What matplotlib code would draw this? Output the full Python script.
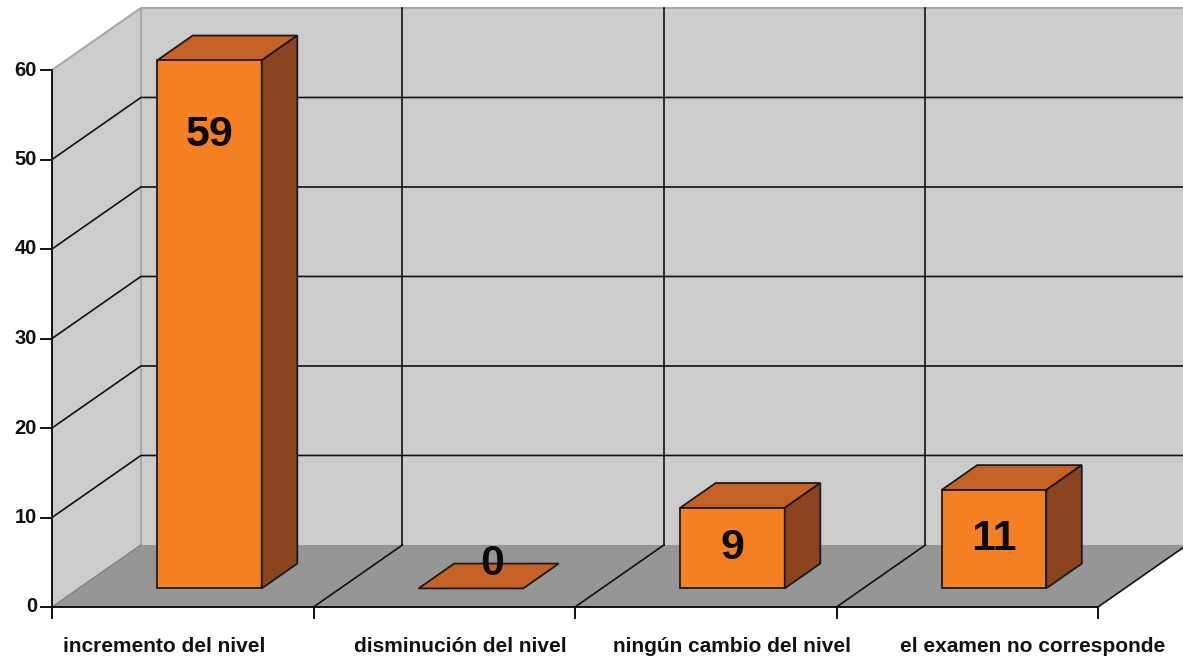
import matplotlib
matplotlib.use("Agg")
import matplotlib.pyplot as plt
from matplotlib.patches import Polygon

plt.rcParams['font.family'] = ['Liberation Sans', 'DejaVu Sans']

categories = ["incremento del nivel", "disminución del nivel",
              "ningún cambio del nivel", "el examen no corresponde"]
values = [59, 0, 9, 11]
yticks = [0, 10, 20, 30, 40, 50, 60]
label_shift = [-0.07, 0.06, 0.10, 0.25]   # category label nudges (category units)

# pseudo-3d geometry, in data units
DX, DY = 0.34, 6.93          # depth vector of the box
D0, D1 = 0.30, 0.70          # bar front/back as fraction of depth
BW = 0.40                    # bar width
YMAX = 60
n = len(categories)

FRONT, TOP, SIDE = "#F58021", "#C76226", "#8C4420"
WALL, FLOOR = "#CCCCCC", "#969696"

fig = plt.figure(figsize=(11.83, 6.56), dpi=100)
ax = fig.add_axes([0, 0, 1, 1])
ax.set_xlim(-52 / 261.5, (1183 - 52) / 261.5)
ax.set_ylim(-49 / 8.95, (656 - 49) / 8.95)
ax.axis("off")

def poly(pts, fc, ec="none", lw=0, z=1):
    ax.add_patch(Polygon(pts, closed=True, facecolor=fc, edgecolor=ec, lw=lw, zorder=z, joinstyle="miter"))

# walls and floor
poly([(DX, DY), (n + DX, DY), (n + DX, YMAX + DY), (DX, YMAX + DY)], WALL)
poly([(0, 0), (DX, DY), (DX, YMAX + DY), (0, YMAX)], WALL)
poly([(0, 0), (n, 0), (n + DX, DY), (DX, DY)], FLOOR)

# frame edges in gray
ax.plot([0, DX, n + DX], [YMAX, YMAX + DY, YMAX + DY], color="#A8A8A8", lw=1.5, zorder=2)
ax.plot([DX, DX], [DY, YMAX + DY], color="#A0A0A0", lw=1.2, zorder=2)
ax.plot([0, DX], [0, DY], color="#808080", lw=1.0, zorder=2)

# horizontal gridlines (left wall + back wall)
for v in yticks[1:-1]:
    ax.plot([0, DX, n + DX], [v, v + DY, v + DY], color="#111111", lw=1.2, zorder=2)
# category separators on the back wall and floor
for i in range(1, n + 1):
    if i < n:
        ax.plot([i + DX, i + DX], [DY, YMAX + DY], color="#111111", lw=1.2, zorder=2)
    ax.plot([i, i + DX], [0, DY], color="#111111", lw=1.2, zorder=2)

# axes lines and ticks
ax.plot([0, 0], [0, YMAX], color="#111111", lw=1.4, zorder=3)
ax.plot([0, n], [0, 0], color="#111111", lw=1.4, zorder=3)
for v in yticks:
    ax.plot([-11 / 261.5, 0], [v, v], color="#111111", lw=1.4, zorder=3)
    ax.text(-15 / 261.5, v, str(v), ha="right", va="center", fontsize=14.5,
            fontweight="bold", color="#111111")
for i in range(n + 1):
    ax.plot([i, i], [0, -11 / 8.95], color="#111111", lw=1.4, zorder=3)
for i, c in enumerate(categories):
    ax.text(i + 0.5 + label_shift[i], -40 / 8.95, c, ha="center", va="center",
            fontsize=15, fontweight="bold", color="#111111")

# bars
ec, lw = "#1A1A1A", 1.3
for i, v in enumerate(values):
    x0 = i + 0.5 - BW / 2 + D0 * DX
    x1 = x0 + BW
    y0 = D0 * DY
    ddx, ddy = (D1 - D0) * DX, (D1 - D0) * DY
    poly([(x0, y0 + v), (x1, y0 + v), (x1 + ddx, y0 + v + ddy), (x0 + ddx, y0 + v + ddy)],
         TOP, ec, lw, z=5)
    if v > 0:
        poly([(x0, y0), (x1, y0), (x1, y0 + v), (x0, y0 + v)], FRONT, ec, lw, z=5)
        poly([(x1, y0), (x1 + ddx, y0 + ddy), (x1 + ddx, y0 + v + ddy), (x1, y0 + v)],
             SIDE, ec, lw, z=5)
    if v == 0:
        ly = D1 * DY
        lx = (x0 + x1) / 2 + ddx * 0.6
    elif v > 20:
        ly = y0 + v - 8.3
        lx = (x0 + x1) / 2
    else:
        ly = y0 + v / 2
        lx = (x0 + x1) / 2
    ax.text(lx, ly, str(v), ha="center", va="center", fontsize=31,
            fontweight="bold", color="#0A0A0A", zorder=6)

fig.savefig("out.png", dpi=100)
